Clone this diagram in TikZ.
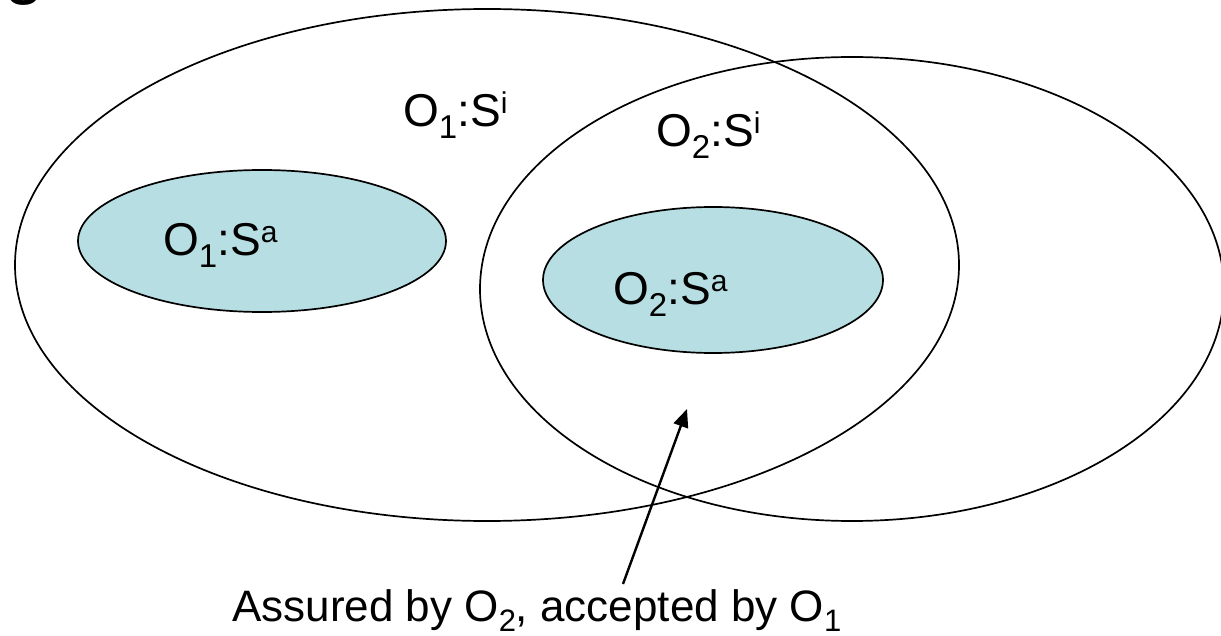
\documentclass[tikz,border=0pt]{standalone}
\usepackage{fontspec}
\setmainfont{Liberation Sans}
\usetikzlibrary{shapes.geometric,arrows.meta}
\definecolor{setfill}{RGB}{183,222,226}
\newcommand{\mysub}[1]{\raisebox{-12pt}{\fontsize{33}{33}\selectfont #1}}
\newcommand{\mysup}[1]{\raisebox{13pt}{\fontsize{30}{30}\selectfont #1}}
\newcommand{\notesub}[1]{\raisebox{-10pt}{\fontsize{31}{31}\selectfont #1}}
\begin{document}
\begin{tikzpicture}[x=1pt,y=-1pt,
  bigset/.style={ellipse,draw=black,line width=1.7pt,inner sep=0pt},
  coreset/.style={ellipse,draw=black,line width=1.7pt,fill=setfill,inner sep=0pt},
  lbl/.style={anchor=base west,inner sep=0pt,font=\fontsize{46}{55}\selectfont},
  pointer/.style={line width=2.4pt,-{Triangle[length=18pt,width=15pt]}}]
\useasboundingbox (0,0) rectangle (1221,636);
\begin{scope}
\clip (0,0) rectangle (1221,636);
\node[anchor=base west,inner sep=0pt,font=\fontsize{72}{80}\selectfont] (title) at (4,-9) {g};
\node[bigset,minimum width=944pt,minimum height=512pt] (Si1) at (487,265) {};
\node[bigset,minimum width=744pt,minimum height=464pt] (Si2) at (852,289) {};
\end{scope}
\node[coreset,minimum width=368pt,minimum height=142pt] (Sa1) at (262,241) {};
\node[coreset,minimum width=340pt,minimum height=146pt] (Sa2) at (713,280) {};
\node[lbl] (l1) at (403,127) {O\mysub{1}:S\mysup{i}};
\node[lbl] (l2) at (656,147) {O\mysub{2}:S\mysup{i}};
\node[lbl] (l3) at (163,256) {O\mysub{1}:S\mysup{a}};
\node[lbl] (l4) at (613,305) {O\mysub{2}:S\mysup{a}};
\node[lbl,font=\fontsize{44}{50}\selectfont] (note) at (232,621) {Assured by O\notesub{2}, accepted by O\notesub{1}};
\coordinate (tail) at (623,584);
\coordinate (tip) at (687,409);
\draw[pointer] (tail) -- (tip);
\end{tikzpicture}
\end{document}
